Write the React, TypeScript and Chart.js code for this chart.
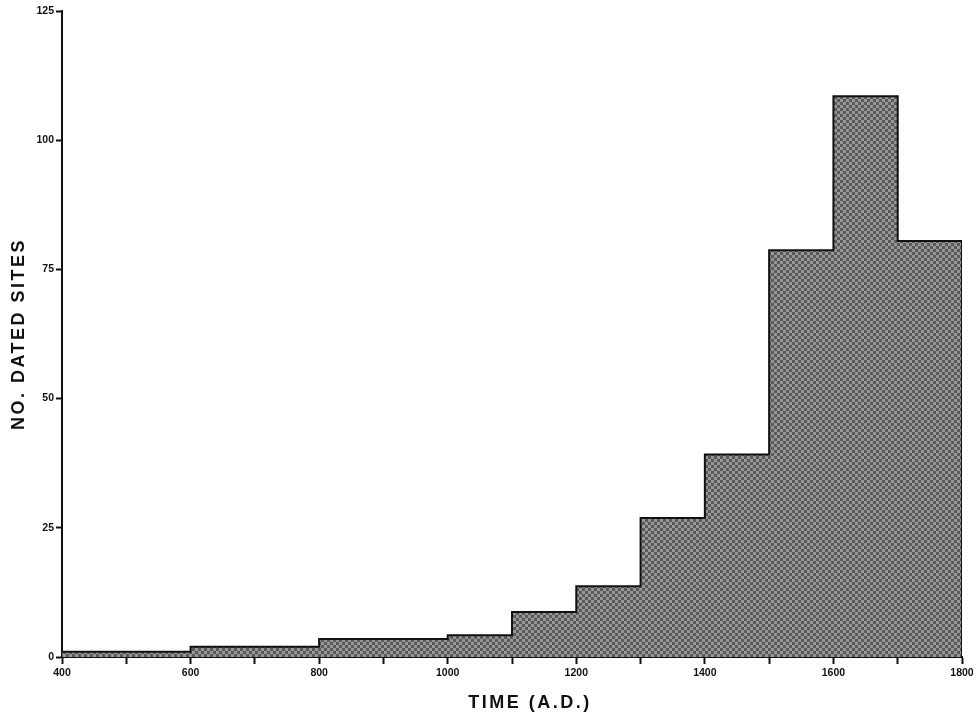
import React, { useEffect, useRef } from "react";
import { Chart, registerables } from "chart.js";

Chart.register(...registerables);

// Bin start years (A.D.) and number of dated sites per bin; last edge closes the histogram
const binStarts = [400, 600, 800, 1000, 1100, 1200, 1300, 1400, 1500, 1600, 1700];
const siteCounts = [1, 2, 3.5, 4.2, 8.7, 13.7, 26.9, 39.2, 78.7, 108.5, 80.5];
const lastEdge = 1800;
const yTicks = [0, 25, 50, 75, 100, 125];
const xLabelYears = [400, 600, 800, 1000, 1200, 1400, 1600, 1800];
const xTitle = "TIME (A.D.)";
const yTitle = "NO. DATED SITES";

function makePattern(): CanvasPattern | string {
  const c = document.createElement("canvas");
  c.width = 6;
  c.height = 6;
  const g = c.getContext("2d");
  if (!g) return "#7a7a7a";
  g.fillStyle = "#979797";
  g.fillRect(0, 0, 6, 6);
  g.fillStyle = "#5a5a5a";
  g.fillRect(0, 0, 3, 3);
  g.fillRect(3, 3, 3, 3);
  return g.createPattern(c, "repeat") || "#7a7a7a";
}

const titlesPlugin = {
  id: "axisTitles",
  afterDraw(chart: any) {
    const { ctx, chartArea } = chart;
    ctx.save();
    ctx.fillStyle = "#111";
    ctx.font = "bold 18px 'Liberation Sans', Arial, sans-serif";
    (ctx as any).letterSpacing = "2.5px";
    ctx.textAlign = "center";
    ctx.textBaseline = "middle";
    ctx.fillText(xTitle, 530, 703);
    ctx.translate(19, (chartArea.top + chartArea.bottom) / 2);
    ctx.rotate(-Math.PI / 2);
    ctx.fillText(yTitle, 0, 0);
    ctx.restore();
  },
};

export default function App() {
  const ref = useRef<HTMLCanvasElement | null>(null);
  useEffect(() => {
    if (!ref.current) return;
    const points = binStarts.map((x, i) => ({ x, y: siteCounts[i] }));
    points.push({ x: lastEdge, y: 0 });
    const chart = new Chart(ref.current, {
      type: "line",
      data: {
        datasets: [
          {
            data: points,
            stepped: true,
            fill: "origin",
            backgroundColor: makePattern() as any,
            borderColor: "#111",
            borderWidth: 2,
            pointRadius: 0,
            borderJoinStyle: "miter",
          },
        ],
      },
      plugins: [titlesPlugin],
      options: {
        animation: false,
        responsive: false,
        maintainAspectRatio: false,
        layout: { padding: { top: 11, right: 15, left: 0, bottom: 0 } },
        plugins: { legend: { display: false }, tooltip: { enabled: false } },
        scales: {
          x: {
            type: "linear",
            min: 400,
            max: lastEdge,
            afterFit: (s: any) => {
              s.height = 60;
            },
            afterBuildTicks: (s: any) => {
              const t = [];
              for (let v = 400; v <= lastEdge; v += 100) t.push({ value: v });
              s.ticks = t;
            },
            ticks: {
              autoSkip: false,
              maxRotation: 0,
              color: "#111",
              padding: 3,
              font: { family: "'Liberation Sans', Arial, sans-serif", weight: "bold", size: 10.5 },
              callback: (v: any) => (xLabelYears.includes(Number(v)) ? String(v) : ""),
            },
            grid: {
              drawOnChartArea: false,
              drawTicks: true,
              tickLength: 7,
              tickWidth: 2,
              color: "#111",
            },
            border: { display: true, color: "#111", width: 2 },
          },
          y: {
            type: "linear",
            min: 0,
            max: 125,
            afterFit: (s: any) => {
              s.width = 62;
            },
            afterBuildTicks: (s: any) => {
              s.ticks = yTicks.map((v) => ({ value: v }));
            },
            ticks: {
              color: "#111",
              padding: 2,
              font: { family: "'Liberation Sans', Arial, sans-serif", weight: "bold", size: 10.5 },
            },
            grid: {
              drawOnChartArea: false,
              drawTicks: true,
              tickLength: 6,
              tickWidth: 2,
              color: "#111",
            },
            border: { display: true, color: "#111", width: 2 },
          },
        },
      },
    });
    return () => chart.destroy();
  }, []);
  return (
    <div style={{ position: "fixed", left: 0, top: 0, width: 977, height: 717, background: "#fff" }}>
      <canvas ref={ref} width={977} height={717} style={{ width: 977, height: 717 }} />
    </div>
  );
}
